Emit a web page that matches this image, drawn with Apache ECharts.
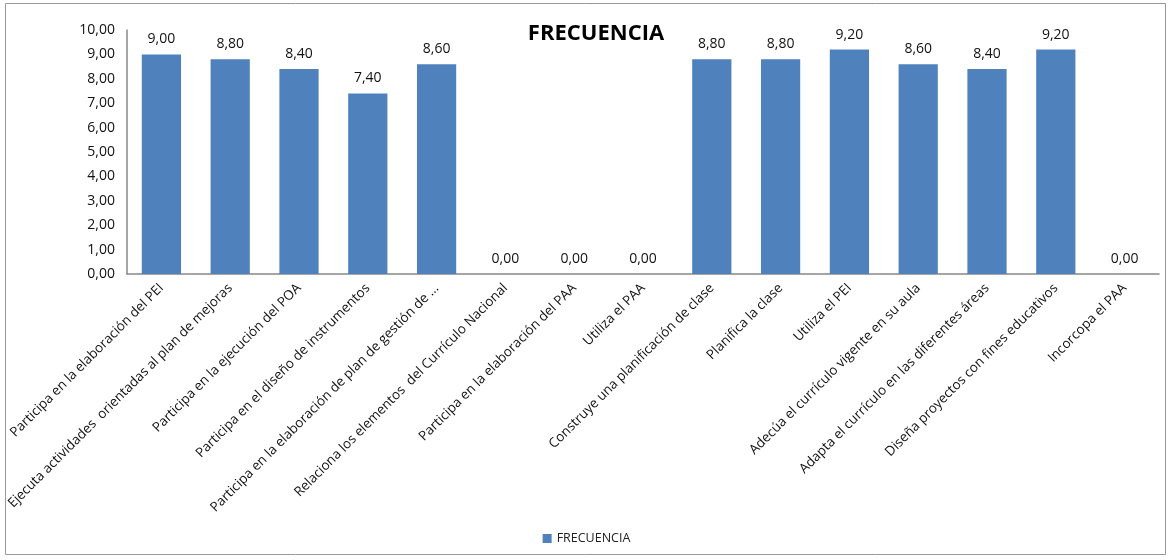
<!DOCTYPE html>
<html><head><meta charset="utf-8">
<script src="https://cdn.jsdelivr.net/npm/echarts@6/dist/echarts.min.js"></script>
<style>html,body{margin:0;padding:0;background:#fff}#c{width:1173px;height:560px}</style>
</head><body><div id="c"></div>
<script>
const categories = [
  "Participa en la elaboración del PEI",
  "Ejecuta actividades  orientadas al plan de mejoras",
  "Participa en la ejecución del POA",
  "Participa en el diseño de instrumentos",
  "Participa en la elaboración de plan de gestión de ...",
  "Relaciona los elementos  del Currículo Nacional",
  "Participa en la elaboración del PAA",
  "Utiliza el PAA",
  "Construye una planificación de clase",
  "Planifica la clase",
  "Utiliza el PEI",
  "Adecúa el currículo vigente en su aula",
  "Adapta el currículo en las diferentes áreas",
  "Diseña proyectos con fines educativos",
  "Incorcopa el PAA"
];
const frecuencia = [9.00, 8.80, 8.40, 7.40, 8.60, 0.00, 0.00, 0.00, 8.80, 8.80, 9.20, 8.60, 8.40, 9.20, 0.00];
const seriesName = "FRECUENCIA";
const titleText = "FRECUENCIA";

const fmt = v => Number(v).toFixed(2).replace('.', ',');
const FONT = "'Open Sans', 'Liberation Sans', sans-serif";

const chart = echarts.init(document.getElementById('c'), null, {renderer: 'canvas'});
chart.setOption({
  animation: false,
  backgroundColor: '#fff',
  textStyle: {fontFamily: FONT},
  title: {
    text: titleText, left: 591, top: 18, textAlign: 'center',
    textStyle: {fontSize: 22, fontWeight: 'bold', color: '#000', fontFamily: FONT}
  },
  legend: {
    bottom: 10, left: 'center', itemWidth: 9, itemHeight: 9, icon: 'rect',
    textStyle: {fontSize: 12.5, color: '#222', fontFamily: FONT},
    data: [seriesName]
  },
  graphic: [{
    type: 'rect', shape: {x: 5.5, y: 3.5, width: 1160, height: 551},
    style: {fill: 'none', stroke: '#999', lineWidth: 1}, silent: true, z: -1
  }],
  grid: {left: 127, right: 14, top: 30, bottom: 286, outerBoundsMode: 'none'},
  xAxis: {
    type: 'category', data: categories,
    axisLine: {lineStyle: {color: '#888', width: 1.5}},
    axisTick: {show: false},
    axisLabel: {rotate: 45, interval: 0, margin: 12, fontSize: 13.4, color: '#111', fontFamily: FONT}
  },
  yAxis: {
    type: 'value', min: 0, max: 10, interval: 1,
    splitLine: {show: false},
    axisLine: {show: true, lineStyle: {color: '#888', width: 1.5}},
    axisTick: {show: false},
    axisLabel: {fontSize: 14, color: '#111', margin: 12, formatter: v => fmt(v), fontFamily: FONT}
  },
  series: [{
    name: seriesName, type: 'bar', data: frecuencia,
    barCategoryGap: '43%',
    itemStyle: {color: '#4F81BD'},
    label: {show: true, position: 'top', distance: 8, fontSize: 14, color: '#111', formatter: p => fmt(p.value), fontFamily: FONT}
  }]
});
</script></body></html>
